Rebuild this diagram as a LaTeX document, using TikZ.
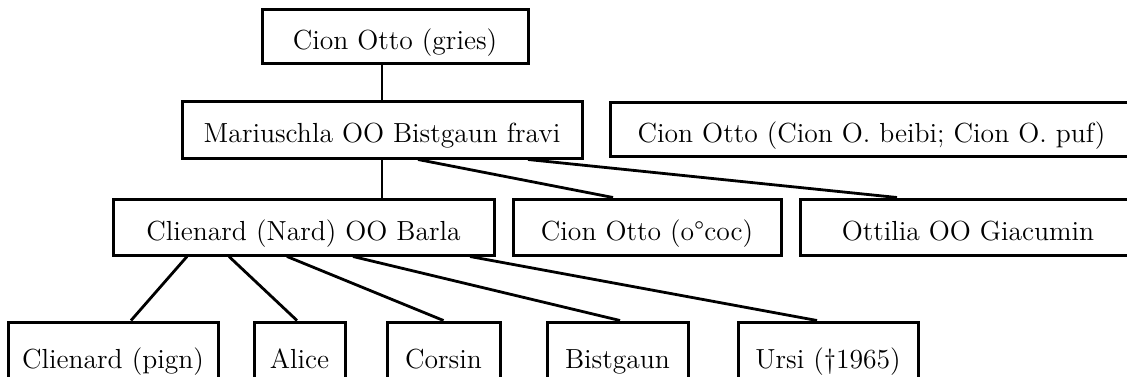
\documentclass[tikz,border=0pt]{standalone}
\tikzset{
  box/.style={draw, line width=1.5pt, inner sep=0pt, align=center,
    text height=13pt, text depth=0pt,
    font=\fontsize{13.8}{16}\selectfont},
  link/.style={line width=1.4pt}
}
\begin{document}
\begin{tikzpicture}[x=0.5pt, y=-0.5pt]
\useasboundingbox (0,0) rectangle (1127,376);
\clip (0,0) rectangle (1127,376);
% row 1
\node[box, minimum width=133pt, minimum height=27pt] (B1) at (395,36) {Cion Otto (gries)};
% row 2
\node[box, minimum width=200pt, minimum height=28.5pt] (B2) at (382,129.5) {Mariuschla OO Bistgaun fravi};
\node[box, minimum width=261.5pt, minimum height=27pt] (B3) at (871.5,129) {Cion Otto (Cion O. beibi; Cion O. puf)};
% row 3
\node[box, minimum width=190.5pt, minimum height=28pt] (B4) at (303.5,227) {Clienard (Nard) OO Barla};
\node[box, minimum width=134pt, minimum height=28pt] (B5) at (647,227) {Cion Otto (o°coc)};
\node[box, minimum width=168pt, minimum height=28pt] (B6) at (968,227) {Ottilia OO Giacumin};
% row 4
\node[box, minimum width=105pt, minimum height=33pt] (C1) at (113,355) {Clienard (pign)};
\node[box, minimum width=45.5pt, minimum height=33pt] (C2) at (299.5,355) {Alice};
\node[box, minimum width=56.5pt, minimum height=33pt] (C3) at (443.5,355) {Corsin};
\node[box, minimum width=70.5pt, minimum height=33pt] (C4) at (617.5,355) {Bistgaun};
\node[box, minimum width=90pt, minimum height=33pt] (C5) at (828,355) {Ursi (†1965)};
% connectors
\draw[link] ([xshift=-6.5pt]B1.south) -- (B2.north);
\draw[link] (B2.south) -- ([xshift=39.25pt]B4.north);
\draw[link] ([xshift=18pt]B2.south) -- ([xshift=-17pt]B5.north);
\draw[link] ([xshift=73pt]B2.south) -- ([xshift=-35.5pt]B6.north);
\draw[link] ([xshift=-58.25pt]B4.south) -- ([xshift=9pt]C1.north);
\draw[link] ([xshift=-37.25pt]B4.south) -- ([xshift=-1.25pt]C2.north);
\draw[link] ([xshift=-8.25pt]B4.south) -- (C3.north);
\draw[link] ([xshift=24.75pt]B4.south) -- ([xshift=1.25pt]C4.north);
\draw[link] ([xshift=83.25pt]B4.south) -- ([xshift=-5.5pt]C5.north);
\end{tikzpicture}
\end{document}
